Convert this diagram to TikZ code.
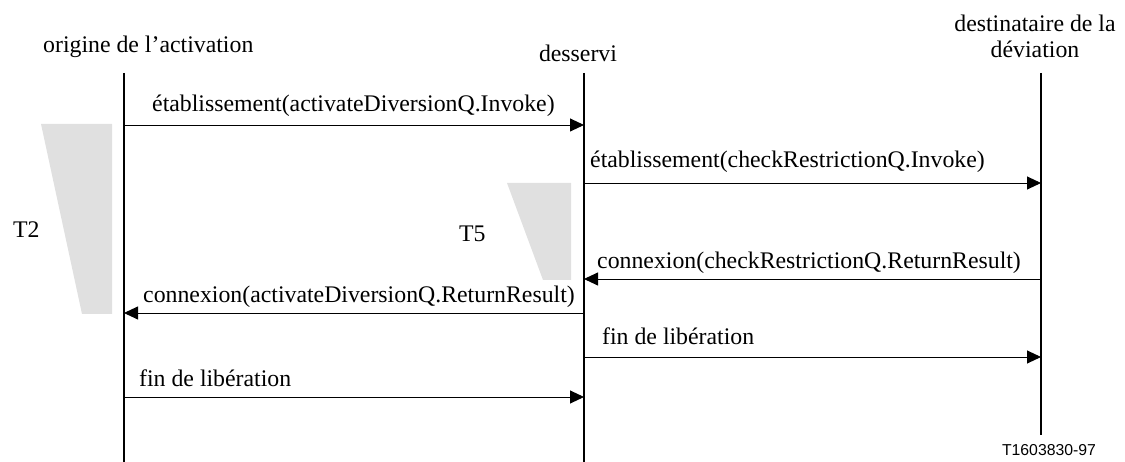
\documentclass[tikz,border=0pt]{standalone}
\usepackage{fontspec}
\setmainfont{Liberation Serif}
\newfontfamily\labelsans{Liberation Sans}
\usetikzlibrary{arrows.meta}
\definecolor{shade}{RGB}{224,224,224}
\tikzset{
  lifeline/.style={line width=2pt},
  thinlife/.style={line width=1.2pt},
  msg/.style={line width=0.9pt,-{Triangle[length=14pt,width=13pt]}},
  lbl/.style={anchor=base west,inner sep=0pt,font=\fontsize{23.8}{28}\selectfont},
  hdr/.style={anchor=base,inner sep=0pt,font=\fontsize{23.8}{28}\selectfont},
  timer/.style={fill=shade,draw=none}
}
\begin{document}
\begin{tikzpicture}[x=1pt,y=-1pt]
\useasboundingbox (0,0) rectangle (1125,462);
% timers
\fill[timer] (41,124) -- (112,124) -- (112,314) -- (82,314) -- cycle;
\fill[timer] (507,183) -- (571,183) -- (571,280) -- (543,280) -- cycle;
% lifelines
\coordinate (ot) at (124,73); \coordinate (ob) at (124,462);
\coordinate (dt) at (584,73); \coordinate (db) at (584,462);
\coordinate (rt) at (1041,73); \coordinate (rb) at (1041,435);
\draw[lifeline] (ot) -- (ob);
\draw[thinlife] (dt) -- (db);
\draw[lifeline] (rt) -- (rb);
% headers
\node[lbl] (h1) at (43,53) {origine de l’activation};
\node[hdr] (h2) at (578,62) {desservi};
\node[hdr] (h3) at (1035,32) {destinataire de la};
\node[hdr] (h4) at (1035,58) {déviation};
% message endpoints
\coordinate (m1a) at (124,125); \coordinate (m1b) at (584,125);
\coordinate (m2a) at (584,183); \coordinate (m2b) at (1041,183);
\coordinate (m3a) at (1041,279); \coordinate (m3b) at (584,279);
\coordinate (m4a) at (584,313); \coordinate (m4b) at (124,313);
\coordinate (m5a) at (584,357); \coordinate (m5b) at (1041,357);
\coordinate (m6a) at (124,397); \coordinate (m6b) at (584,397);
\draw[msg] (m1a) -- (m1b);
\draw[msg] (m2a) -- (m2b);
\draw[msg] (m3a) -- (m3b);
\draw[msg] (m4a) -- (m4b);
\draw[msg] (m5a) -- (m5b);
\draw[msg] (m6a) -- (m6b);
% labels
\node[lbl] (l1) at (152,112) {établissement(activateDiversionQ.Invoke)};
\node[lbl] (l2) at (590,168) {établissement(checkRestrictionQ.Invoke)};
\node[lbl] (l3) at (597,269) {connexion(checkRestrictionQ.ReturnResult)};
\node[lbl] (l4) at (143,303) {connexion(activateDiversionQ.ReturnResult)};
\node[lbl] (l5) at (602,345) {fin de libération};
\node[lbl] (l6) at (139,387) {fin de libération};
\node[lbl] (t2) at (13,238) {T2};
\node[lbl] (t5) at (459,242) {T5};
\node[anchor=base,inner sep=0pt,font=\labelsans\fontsize{15.8}{18}\selectfont] (ref) at (1049,455) {T1603830-97};
\end{tikzpicture}
\end{document}
